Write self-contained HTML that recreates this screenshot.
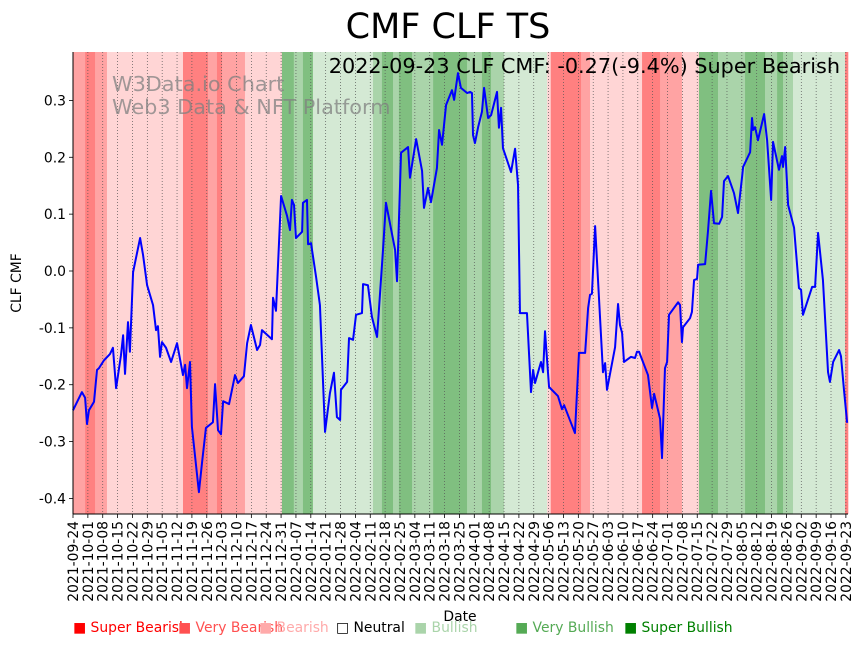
<!DOCTYPE html>
<html><head><meta charset="utf-8"><style>
body{margin:0;background:#fff;font-family:"DejaVu Sans","Liberation Sans",sans-serif}
#wrap{position:relative;width:864px;height:646px;overflow:hidden}
.leg{position:absolute;top:620px;font-size:13.9px;white-space:nowrap;font-family:"DejaVu Sans","Liberation Sans",sans-serif}
svg text{font-family:"DejaVu Sans","Liberation Sans",sans-serif}
</style></head><body>
<div id="wrap">
<svg id="chart" width="864" height="646" style="position:absolute;left:0;top:0"></svg>
<div class="leg" style="left:73px;color:#ff0000">■ Super Bearish</div>
<div class="leg" style="left:178px;color:#ff5050">■ Very Bearish</div>
<div class="leg" style="left:259px;color:#ffaaaa">■ Bearish</div>
<div class="leg" style="left:336px;color:#000">□ Neutral</div>
<div class="leg" style="left:414px;color:#aad4aa">■ Bullish</div>
<div class="leg" style="left:515px;color:#55aa55">■ Very Bullish</div>
<div class="leg" style="left:624px;color:#008000">■ Super Bullish</div>
</div>
<script>
const days=[0,4.2,5.7,6.6,7.5,9.9,11.3,12.2,14.6,17.4,18.8,20.3,22.6,23.6,24.5,25.9,26.8,28.3,31.6,33.0,34.9,37.7,39.1,40.0,41.0,41.9,43.8,46.2,49.0,51.8,52.8,53.7,55.1,56.0,59.3,60.8,62.6,65.9,66.9,68.3,69.7,70.7,73.5,76.3,77.7,80.5,82.0,83.8,86.7,88.1,89.0,93.7,94.2,95.6,98.0,100.8,102.2,103.1,104.1,105.0,107.9,108.3,110.2,110.7,112.1,114.5,116.3,118.7,121.0,122.9,124.3,125.8,126.2,129.1,130.0,131.9,133.3,136.1,136.6,138.9,140.8,143.2,146.0,147.4,151.7,152.6,154.5,157.8,158.7,161.6,164.4,165.3,167.2,168.6,171.4,172.4,173.8,175.7,178.5,179.5,181.3,182.7,185.6,187.0,187.9,188.4,189.3,190.8,192.6,193.6,195.5,196.9,199.7,200.6,201.6,202.5,206.3,208.2,209.6,210.5,213.8,215.7,216.7,217.6,220.4,221.4,222.3,224.2,228.4,230.3,231.3,236.4,238.3,241.2,242.6,243.5,244.4,245.9,249.6,250.6,251.5,255.3,256.7,257.6,258.6,259.5,262.8,264.7,265.6,266.6,270.8,272.7,273.7,276.5,277.4,278.8,279.8,280.7,285.0,285.9,286.8,287.3,290.6,291.5,292.5,293.9,294.4,297.7,299.1,300.5,301.9,304.3,305.7,306.6,308.5,311.3,313.2,315.1,315.6,318.9,319.8,320.3,321.2,322.6,325.5,326.9,328.8,329.7,332.5,333.9,334.4,335.4,336.8,339.6,341.9,342.9,343.8,348.1,349.5,350.9,353.2,355.6,356.5,358.0,360.8,361.7,363.1,364.6];
const cmf=[-0.245,-0.213,-0.223,-0.269,-0.245,-0.230,-0.174,-0.171,-0.157,-0.146,-0.135,-0.206,-0.148,-0.113,-0.181,-0.090,-0.142,-0.002,0.058,0.028,-0.025,-0.060,-0.104,-0.097,-0.151,-0.125,-0.135,-0.160,-0.127,-0.183,-0.165,-0.206,-0.160,-0.274,-0.389,-0.336,-0.276,-0.266,-0.199,-0.280,-0.287,-0.229,-0.234,-0.183,-0.197,-0.185,-0.127,-0.095,-0.139,-0.130,-0.104,-0.120,-0.047,-0.070,0.132,0.097,0.072,0.125,0.116,0.058,0.069,0.120,0.125,0.047,0.049,-0.011,-0.060,-0.283,-0.215,-0.179,-0.257,-0.262,-0.209,-0.195,-0.118,-0.121,-0.077,-0.074,-0.023,-0.025,-0.081,-0.116,0.037,0.120,0.037,-0.018,0.208,0.218,0.164,0.232,0.176,0.111,0.146,0.121,0.181,0.248,0.222,0.292,0.318,0.301,0.348,0.322,0.313,0.315,0.313,0.239,0.225,0.253,0.280,0.322,0.269,0.274,0.315,0.252,0.287,0.216,0.174,0.215,0.151,-0.074,-0.074,-0.213,-0.174,-0.197,-0.160,-0.178,-0.106,-0.204,-0.220,-0.243,-0.236,-0.285,-0.144,-0.144,-0.065,-0.042,-0.040,0.079,-0.178,-0.162,-0.209,-0.134,-0.058,-0.095,-0.109,-0.160,-0.151,-0.153,-0.142,-0.142,-0.183,-0.241,-0.216,-0.260,-0.329,-0.171,-0.160,-0.077,-0.055,-0.060,-0.125,-0.099,-0.083,-0.072,-0.016,-0.014,0.011,0.012,0.072,0.141,0.084,0.083,0.095,0.158,0.167,0.137,0.102,0.165,0.183,0.209,0.269,0.248,0.253,0.230,0.276,0.230,0.125,0.227,0.178,0.202,0.183,0.218,0.116,0.076,-0.030,-0.033,-0.077,-0.028,-0.028,0.067,-0.016,-0.178,-0.195,-0.160,-0.139,-0.150,-0.209,-0.267];
const bandStart=[0,5.7,10.4,16,51.8,63.6,67.8,70.2,81,98.4,104,108.3,113,141.3,145.5,150.7,153.5,159.7,169.6,185.6,192.6,196.9,203,223.3,225,239.3,243.5,268,276.5,286.8,294.8,303.8,316.5,325.9,331.6,334.4,339.1,363.6];
const bandEnd=[5.7,10.4,16,51.8,63.6,67.8,70.2,81,98.4,104,108.3,113,141.3,145.5,150.7,153.5,159.7,169.6,185.6,192.6,196.9,203,223.3,225,239.3,243.5,268,276.5,286.8,294.8,303.8,316.5,325.9,331.6,334.4,339.1,363.6,365];
const bandLevel=[-2,-3,-2,-1,-3,-2,-3,-2,-1,3,2,3,1,2,3,2,3,2,3,2,3,2,1,-1,-3,-2,-1,-3,-2,-1,3,2,3,2,3,2,1,-3];
const yTicks=[-0.4,-0.3,-0.2,-0.1,0.0,0.1,0.2,0.3];

const NS="http://www.w3.org/2000/svg",svg=document.getElementById('chart');
const X0=73,X1=848,Y0=52,Y1=514;
const xs=d=>X0+d*(X1-X0)/365;
const ys=v=>271-v*568.6;
const colors={"-3":"#ff8080","-2":"#ffa3a3","-1":"#ffd5d5","1":"#d4e9d4","2":"#aad4aa","3":"#80bf80"};
function mk(t,a,p){const e=document.createElementNS(NS,t);for(const k in a)e.setAttribute(k,a[k]);(p||svg).appendChild(e);return e;}
for(let i=0;i<bandStart.length;i++){
 const r=mk('rect',{x:xs(bandStart[i]),y:Y0,width:xs(bandEnd[i])-xs(bandStart[i])+0.3,height:Y1-Y0,fill:colors[bandLevel[i]]});
 
 
}
const base=new Date(Date.UTC(2021,8,24));
for(let d=0;d<=364;d+=7){
 const x=xs(d);
 const g=mk('line',{x1:x,y1:Y0,x2:x,y2:Y1,stroke:'#555','stroke-width':0.7,'stroke-dasharray':'1,2'});
 
 
 mk('line',{x1:x,y1:Y1,x2:x,y2:Y1+4,stroke:'#000','stroke-width':0.8});
 const dt=new Date(base.getTime()+d*86400000);
 const s=dt.toISOString().slice(0,10);
 const t=mk('text',{x:0,y:0,transform:`translate(${x+5},${Y1+7}) rotate(-90)`,'text-anchor':'end','font-size':13.9,fill:'#000'});
 t.textContent=s;
 
 
}
yTicks.forEach(v=>{
 const y=ys(v);
 mk('line',{x1:X0-4,y1:y,x2:X0,y2:y,stroke:'#000','stroke-width':0.8});
 const t=mk('text',{x:X0-7,y:y+5,'text-anchor':'end','font-size':13.9});
 t.textContent=v.toFixed(1);
 
 
});
const p=mk('polyline',{points:days.map((d,i)=>xs(d)+','+ys(cmf[i])).join(' '),fill:'none',stroke:'#0000ff','stroke-width':2,'stroke-linejoin':'round'});


mk('line',{x1:X0,y1:Y0,x2:X0,y2:Y1,stroke:'#000','stroke-width':1});
mk('line',{x1:X0,y1:Y1,x2:X1,y2:Y1,stroke:'#000','stroke-width':1});
function txt(s,a,name){const t=mk('text',a);t.textContent=s;return t;}
txt('CMF CLF TS',{x:448,y:38,'text-anchor':'middle','font-size':35},'chart-title');
txt('2022-09-23 CLF CMF: -0.27(-9.4%) Super Bearish',{x:840,y:73,'text-anchor':'end','font-size':20.8},'latest-value-annotation');
txt('W3Data.io Chart',{x:112,y:91,'font-size':20.8,fill:'#808080','fill-opacity':0.75},'watermark-line-1');
txt('Web3 Data & NFT Platform',{x:112,y:114,'font-size':20.8,fill:'#808080','fill-opacity':0.75},'watermark-line-2');
txt('Date',{x:460,y:621,'text-anchor':'middle','font-size':13.9},'x-axis-title');
txt('CLF CMF',{x:0,y:0,transform:'translate(21,283) rotate(-90)','text-anchor':'middle','font-size':13.9},'y-axis-title');
</script>
</body></html>
